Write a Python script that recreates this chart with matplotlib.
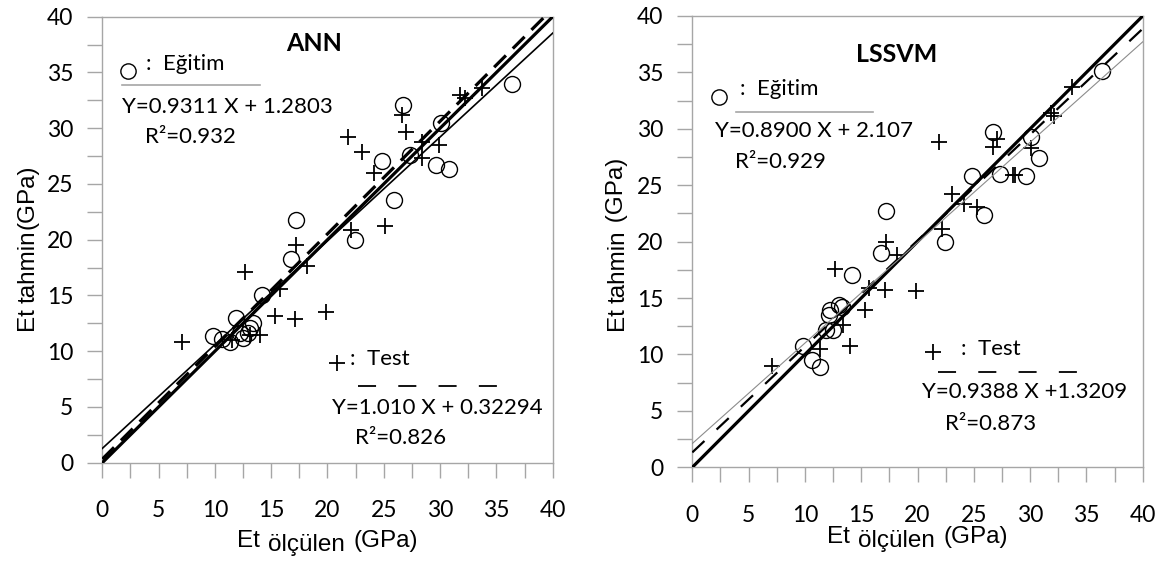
import matplotlib
matplotlib.use("Agg")
import matplotlib.pyplot as plt
import numpy as np

plt.rcParams['lines.scale_dashes'] = False

# ANN panel values
ann_train_x = [36.4, 26.7, 30.1, 24.8, 27.3, 29.6, 30.8, 25.9, 22.4, 17.2, 16.8, 14.2,
               11.9, 9.8, 10.6, 11.3, 12.2, 12.5, 13.1, 13.4, 12.9]
ann_train_y = [34.0, 32.1, 30.5, 27.1, 27.6, 26.7, 26.3, 23.6, 20.0, 21.8, 18.3, 15.0,
               13.0, 11.4, 11.1, 10.8, 11.6, 11.2, 12.05, 12.5, 11.6]
ann_test_x = [7.05, 12.7, 15.8, 15.3, 17.1, 19.9, 18.2, 14.0, 13.1, 11.5, 17.2, 22.1,
              25.1, 21.8, 23.1, 24.1, 26.6, 27.0, 28.4, 29.9, 28.4, 31.8, 32.2, 33.7]
ann_test_y = [10.85, 17.1, 15.6, 13.2, 12.9, 13.5, 17.6, 11.45, 11.45, 11.0, 19.5, 20.9,
              21.2, 29.2, 27.9, 26.0, 31.2, 29.7, 28.8, 28.5, 27.3, 33.0, 32.7, 33.6]
ann_train_fit = (0.9311, 1.2803)
ann_test_fit = (1.010, 0.32294)

# LSSVM panel values
lssvm_train_x = [36.4, 26.7, 30.1, 30.8, 24.8, 27.3, 29.6, 25.9, 22.4, 17.2, 16.8, 14.2,
                 12.2, 13.0, 13.3, 12.1, 11.9, 12.5, 9.8, 10.6, 11.3]
lssvm_train_y = [35.1, 29.75, 29.3, 27.4, 25.8, 26.0, 25.8, 22.4, 20.0, 22.75, 19.0, 17.05,
                 13.95, 14.4, 14.2, 13.5, 12.2, 12.2, 10.75, 9.5, 8.9]
lssvm_test_x = [7.05, 11.3, 14.0, 13.4, 15.3, 15.7, 17.1, 19.9, 12.7, 18.2, 21.9, 26.7,
                27.1, 23.1, 24.1, 25.3, 22.2, 28.5, 28.7, 30.05, 31.9, 32.1, 33.75, 17.2]
lssvm_test_y = [9.0, 10.45, 10.75, 12.6, 13.9, 15.9, 15.7, 15.6, 17.6, 18.8, 28.8, 28.4,
                29.1, 24.2, 23.3, 23.1, 21.1, 25.9, 25.9, 28.3, 31.4, 31.1, 33.7, 20.0]
lssvm_train_fit = (0.8900, 2.107)
lssvm_test_fit = (0.9388, 1.3209)

major_ticks = list(range(0, 41, 5))
minor_ticks = list(np.arange(2.5, 40, 5))

GRAY = '#a6a6a6'
TXT_FONT = 'Lato'
LBL_FONT = 'Liberation Sans'
LBL_SIZE = 17.5
W, H = 1162, 561

fig = plt.figure(figsize=(W / 100, H / 100), dpi=100)
ax1 = fig.add_axes([102.3 / W, 1 - 462.7 / H, 450.4 / W, 446 / H])
ax2 = fig.add_axes([692.3 / W, 1 - 467.3 / H, 450.4 / W, 451.3 / H])


def style_axes(ax):
    ax.set_xlim(0, 40)
    ax.set_ylim(0, 40)
    ax.set_xticks(major_ticks)
    ax.set_yticks(major_ticks)
    ax.set_xticks(minor_ticks, minor=True)
    ax.set_yticks(minor_ticks, minor=True)
    ax.tick_params(which='both', direction='out', length=11, width=1, color=GRAY)
    ax.tick_params(axis='x', pad=16, labelsize=16.5)
    ax.tick_params(axis='y', pad=10, labelsize=16.5)
    for lab in ax.get_xticklabels() + ax.get_yticklabels():
        lab.set_fontfamily(TXT_FONT)
    for s in ax.spines.values():
        s.set_color(GRAY)
        s.set_linewidth(1)


def scatter_points(ax, tx, ty, sx, sy):
    ax.plot(tx, ty, 'o', ms=11.5, mfc='none', mec='black', mew=1.0, zorder=2, clip_on=False)
    ax.plot(sx, sy, '+', ms=12, mec='black', mew=1.3, zorder=2, clip_on=False)


def fit_line(ax, fit, **kw):
    xs = np.array([0, 40])
    ax.plot(xs, fit[0] * xs + fit[1], zorder=3, **kw)


def axis_labels(ax, xl_start, xl_base, yl_right, yl_start, y_rest):
    # x label: "Et" + lowered "ölçülen" + "(GPa)"
    t1 = fig.text(xl_start / W, 1 - xl_base / H, 'Et', fontsize=LBL_SIZE, family=LBL_FONT,
                  ha='left', va='baseline')
    t2 = ax.annotate('ölçülen', xy=(1, 0), xycoords=t1, xytext=(6, -3),
                     textcoords='offset points', ha='left', va='bottom', fontsize=LBL_SIZE,
                     family=LBL_FONT, annotation_clip=False)
    ax.annotate('(GPa)', xy=(1, 0), xycoords=t2, xytext=(6, 3),
                textcoords='offset points', ha='left', va='bottom', fontsize=LBL_SIZE,
                family=LBL_FONT, annotation_clip=False)
    # y label, rotated
    u1 = fig.text(yl_right / W, 1 - yl_start / H, 'Et', fontsize=LBL_SIZE, family=LBL_FONT,
                  rotation=90, rotation_mode='anchor', ha='left', va='baseline')
    u2 = ax.annotate('tahmin', xy=(1, 1), xycoords=u1, xytext=(1, 3),
                     textcoords='offset points', ha='left', va='bottom', fontsize=LBL_SIZE,
                     family=LBL_FONT, rotation=90, rotation_mode='anchor',
                     annotation_clip=False)
    ax.annotate(y_rest, xy=(1, 1), xycoords=u2, xytext=(-1, 1),
                textcoords='offset points', ha='left', va='bottom', fontsize=LBL_SIZE,
                family=LBL_FONT, rotation=90, rotation_mode='anchor',
                annotation_clip=False)


txt = dict(fontsize=16, family=TXT_FONT, va='baseline', ha='left')

# ---- ANN ----
style_axes(ax1)
scatter_points(ax1, ann_train_x, ann_train_y, ann_test_x, ann_test_y)
fit_line(ax1, (1, 0), color='black', lw=2.3)
fit_line(ax1, ann_test_fit, color='black', lw=2.3, dashes=(12, 7))
fit_line(ax1, ann_train_fit, color='black', lw=1.2)
ax1.text(18.77, 37.6, 'ANN', fontsize=18, family=TXT_FONT, fontweight='bold',
         ha='center', va='center')
ax1.plot(2.31, 35.1, 'o', ms=11, mfc='none', mec='black', mew=1.0)
ax1.text(3.9, 35.2, ':  Eğitim', **txt)
ax1.plot([1.78, 14.0], [33.87, 33.87], color=GRAY, lw=1.2)
ax1.text(1.76, 31.33, 'Y=0.9311 X + 1.2803', **txt)
ax1.text(3.79, 28.65, 'R²=0.932', **txt)
ax1.plot(20.82, 8.91, '+', ms=12, mec='black', mew=1.3)
ax1.text(22.0, 8.76, ':  Test', **txt)
ax1.plot([22.7, 35.05], [6.88, 6.88], color='black', lw=1.3, dashes=(13, 16))
ax1.text(20.37, 4.37, 'Y=1.010 X + 0.32294', **txt)
ax1.text(22.44, 1.65, 'R²=0.826', **txt)
axis_labels(ax1, 236.7, 546.7, 33, 330, '(GPa)')

# ---- LSSVM ----
style_axes(ax2)
scatter_points(ax2, lssvm_train_x, lssvm_train_y, lssvm_test_x, lssvm_test_y)
fit_line(ax2, (1, 0), color='black', lw=2.3)
fit_line(ax2, lssvm_test_fit, color='black', lw=1.6, dashes=(12, 12))
fit_line(ax2, lssvm_train_fit, color='#8c8c8c', lw=0.8)
ax2.text(18.15, 36.63, 'LSSVM', fontsize=18, family=TXT_FONT, fontweight='bold',
         ha='center', va='center')
ax2.plot(2.4, 32.85, 'o', ms=11, mfc='none', mec='black', mew=1.0)
ax2.text(4.22, 33.0, ':  Eğitim', **txt)
ax2.plot([3.87, 16.04], [31.52, 31.52], color=GRAY, lw=1.2)
ax2.text(2.02, 29.31, 'Y=0.8900 X + 2.107', **txt)
ax2.text(3.79, 26.5, 'R²=0.929', **txt)
ax2.plot(21.4, 10.22, '+', ms=12, mec='black', mew=1.3)
ax2.text(23.86, 9.97, ':  Test', **txt)
ax2.plot([21.82, 34.16], [8.48, 8.48], color='black', lw=1.3, dashes=(13, 16))
ax2.text(20.37, 6.12, 'Y=0.9388 X +1.3209', **txt)
ax2.text(22.44, 3.3, 'R²=0.873', **txt)
axis_labels(ax2, 826.7, 543.3, 623, 330, ' (GPa)')

fig.savefig('out.png', dpi=100)
